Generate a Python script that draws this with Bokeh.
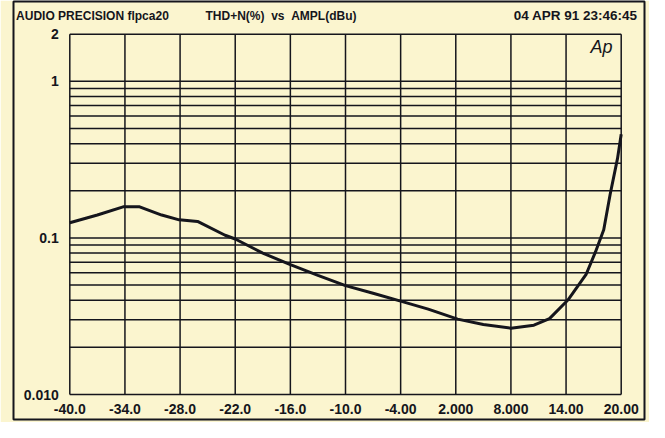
from bokeh.plotting import figure
from bokeh.models import FixedTicker, Label, Range1d
from bokeh.embed import file_html
from bokeh.resources import INLINE

# ---- data ----
ampl_dbu = [-40.0, -37.0, -34.2, -32.4, -30.0, -28.1, -26.1, -23.1, -22.0, -19.0,
            -16.0, -13.0, -10.0, -7.0, -4.0, -1.0, 2.2, 5.0, 8.0, 10.5,
            12.2, 14.2, 16.2, 17.2, 18.1, 18.8, 19.6, 20.0]
thdn_pct = [0.125, 0.140, 0.158, 0.158, 0.140, 0.1305, 0.1275, 0.104, 0.0984, 0.080,
            0.0675, 0.0577, 0.0496, 0.0443, 0.0395, 0.0351, 0.0303, 0.028, 0.0265, 0.0277,
            0.0305, 0.0401, 0.0588, 0.0814, 0.1128, 0.19, 0.322, 0.459]

x_min, x_max = -40, 20
y_min, y_max = 0.01, 2
x_ticks = [-40, -34, -28, -22, -16, -10, -4, 2, 8, 14, 20]
x_tick_labels = ["-40.0", "-34.0", "-28.0", "-22.0", "-16.0", "-10.0", "-4.00",
                 "2.000", "8.000", "14.00", "20.00"]
y_ticks = [0.01, 0.1, 1, 2]
y_tick_labels = ["0.010", "0.1", "1", "2"]
y_grid = [0.01, 0.02, 0.03, 0.04, 0.05, 0.06, 0.07, 0.08, 0.09,
          0.1, 0.2, 0.3, 0.4, 0.5, 0.6, 0.7, 0.8, 0.9, 1, 2]

title_left = "AUDIO PRECISION flpca20"
title_mid = "THD+N(%)\u00a0\u00a0vs\u00a0\u00a0AMPL(dBu)"
title_right = "04 APR 91 23:46:45"
logo = "Ap"

BG = "#FBF5CF"
INK = "#15151c"

# The Bokeh frame is the outer box of the instrument printout; the graph area
# (-40..20 dBu, 0.010..2 %) sits inside it with room for header and tick labels.
p = figure(width=649, height=422, output_backend="svg", toolbar_location=None,
           y_axis_type="log",
           x_range=Range1d(-46.126, 22.535), y_range=Range1d(0.006924, 3.236),
           min_border_left=13, min_border_right=5, min_border_top=1, min_border_bottom=3,
           background_fill_color=BG, border_fill_color=BG)
p.xgrid.visible = False
p.ygrid.visible = False
p.outline_line_color = INK
p.outline_line_width = 2
p.outline_line_alpha = 1.0

# graph grid (only inside the graph area)
p.segment(x0=x_ticks, y0=[y_min] * len(x_ticks), x1=x_ticks, y1=[y_max] * len(x_ticks),
          line_color=INK, line_width=1.5)
p.segment(x0=[x_min] * len(y_grid), y0=y_grid, x1=[x_max] * len(y_grid), y1=y_grid,
          line_color=INK, line_width=1.5)

# measurement curve
p.line(ampl_dbu, thdn_pct, line_color=INK, line_width=3)

# axes drawn at the graph edges
p.xaxis.fixed_location = y_min
p.yaxis.fixed_location = x_min
p.xaxis.ticker = FixedTicker(ticks=x_ticks)
p.xaxis.major_label_overrides = dict(zip(x_ticks, x_tick_labels))
p.yaxis.ticker = FixedTicker(ticks=y_ticks)
p.yaxis.major_label_overrides = dict(zip(y_ticks, y_tick_labels))
for ax in (p.xaxis, p.yaxis):
    ax.axis_line_color = None
    ax.major_tick_line_color = None
    ax.minor_tick_line_color = None
    ax.major_tick_in = 0
    ax.major_tick_out = 0
    ax.minor_tick_in = 0
    ax.minor_tick_out = 0
    ax.major_label_text_font = "Liberation Sans"
    ax.major_label_text_font_style = "bold"
    ax.major_label_text_font_size = "14px"
    ax.major_label_text_color = INK
p.xaxis.major_label_standoff = 9
p.yaxis.major_label_standoff = 11

# header texts (canvas pixels)
hdr = dict(y=15, x_units="canvas", y_units="canvas", text_font="Liberation Sans",
           text_font_style="bold", text_color=INK, text_baseline="middle")
p.add_layout(Label(x=15.6, text=title_left, text_font_size="12px", text_align="left", **hdr))
p.add_layout(Label(x=205, text=title_mid, text_font_size="12px", text_align="left", **hdr))
p.add_layout(Label(x=637, text=title_right, text_font_size="13.5px", text_align="right", **hdr))
# logo
p.add_layout(Label(x=612, y=46, x_units="canvas", y_units="canvas", text=logo,
                   text_font="Liberation Sans", text_font_style="italic",
                   text_font_size="18px", text_color=INK,
                   text_align="right", text_baseline="middle"))

open("out.html", "w").write(file_html(p, INLINE))
